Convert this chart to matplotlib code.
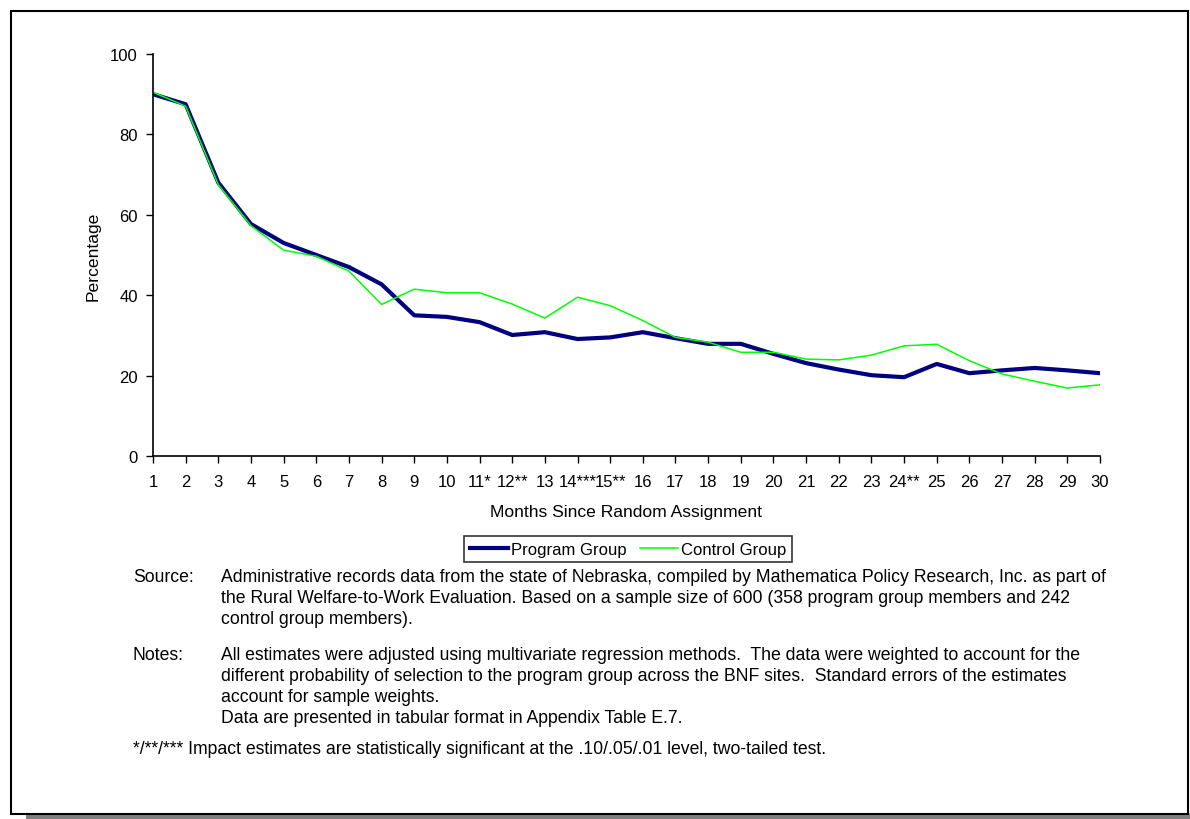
import matplotlib
matplotlib.use("Agg")
import matplotlib.pyplot as plt
from matplotlib.patches import Rectangle

plt.rcParams['font.family'] = ['Liberation Sans', 'DejaVu Sans']

months = list(range(1, 31))
month_labels = ['1', '2', '3', '4', '5', '6', '7', '8', '9', '10', '11*', '12**', '13',
                '14***', '15**', '16', '17', '18', '19', '20', '21', '22', '23', '24**',
                '25', '26', '27', '28', '29', '30']
program_group = [90.0, 87.5, 68.0, 57.7, 53.0, 50.0, 47.0, 42.7, 35.0, 34.6,
                 33.3, 30.1, 30.8, 29.1, 29.5, 30.8, 29.3, 27.9, 27.9, 25.4,
                 23.1, 21.5, 20.1, 19.6, 22.9, 20.6, 21.3, 21.9, 21.3, 20.6]
control_group = [90.5, 87.0, 67.5, 57.3, 51.2, 49.7, 46.0, 37.7, 41.5, 40.6,
                 40.6, 37.8, 34.3, 39.5, 37.4, 33.7, 29.5, 28.3, 25.8, 25.8,
                 24.1, 23.9, 25.1, 27.4, 27.8, 23.7, 20.4, 18.6, 16.9, 17.7]
yticks = [0, 20, 40, 60, 80, 100]

W, H = 1190, 820
fig = plt.figure(figsize=(W / 100, H / 100), dpi=100)

# outer frame with shadow
fig.patches.append(Rectangle((26 / W, 1 - 820 / H), (1190 - 26) / W, 6 / H,
                             transform=fig.transFigure, facecolor='#808080',
                             edgecolor='none', zorder=0))
fig.patches.append(Rectangle((11 / W, 1 - 815 / H), (1188 - 11) / W, (815 - 12) / H,
                             transform=fig.transFigure, facecolor='white',
                             edgecolor='black', linewidth=1.5, zorder=1))

ax = fig.add_axes([153 / W, 1 - 457 / H, (1100 - 153) / W, (457 - 55) / H])
ax.set_zorder(2)
ax.patch.set_visible(False)

ax.plot(months, program_group, color='#000080', linewidth=3.0, label='Program Group',
        solid_joinstyle='round')
ax.plot(months, control_group, color='#00FF00', linewidth=1.1, label='Control Group')

ax.set_xlim(1, 30)
ax.set_ylim(0, 100)
ax.set_xticks(months)
ax.set_xticklabels(month_labels)
ax.set_yticks(yticks)
for s in ['top', 'right']:
    ax.spines[s].set_visible(False)
for s in ['left', 'bottom']:
    ax.spines[s].set_linewidth(1.2)
ax.tick_params(axis='both', direction='out', length=5, width=1.0, labelsize=12, pad=6)
ax.tick_params(axis='x', pad=8)

ax.set_xlabel('Months Since Random Assignment', fontsize=12.6, labelpad=11)
ax.set_ylabel('Percentage', fontsize=12.6, labelpad=7)

leg = fig.legend(loc='center', bbox_to_anchor=(628 / W, 1 - 550 / H), ncol=2,
                 fontsize=12, frameon=True, fancybox=False, edgecolor='black',
                 handlelength=2.3, handletextpad=0.15, columnspacing=0.8,
                 borderpad=0.35, borderaxespad=0)
leg.get_frame().set_linewidth(1.2)
leg.set_zorder(3)

fs = 12.7
def t(x, y, s):
    fig.text(x / W, 1 - y / H, s, fontsize=fs, ha='left', va='center', zorder=4)

t(133, 578, 'Source:')
t(221, 578, 'Administrative records data from the state of Nebraska, compiled by Mathematica Policy Research, Inc. as part of')
t(221, 599, 'the Rural Welfare-to-Work Evaluation. Based on a sample size of 600 (358 program group members and 242')
t(221, 620, 'control group members).')
t(133, 655, 'Notes:')
t(221, 655, 'All estimates were adjusted using multivariate regression methods.  The data were weighted to account for the')
t(221, 677, 'different probability of selection to the program group across the BNF sites.  Standard errors of the estimates')
t(221, 698, 'account for sample weights.')
t(221, 719, 'Data are presented in tabular format in Appendix Table E.7.')
t(133, 750, '*/**/*** Impact estimates are statistically significant at the .10/.05/.01 level, two-tailed test.')

fig.savefig('out.png', dpi=100)
